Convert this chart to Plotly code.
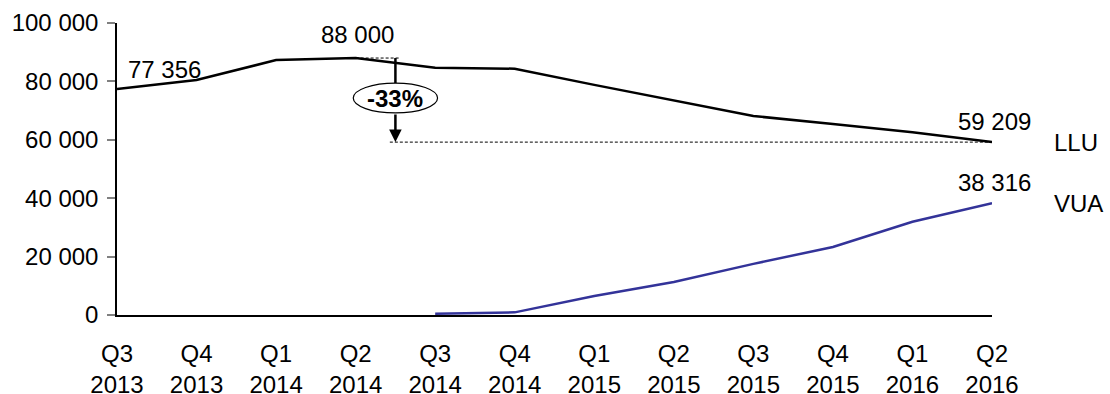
import plotly.graph_objects as go

# Quarterly line counts
quarters = ["Q3<br>2013", "Q4<br>2013", "Q1<br>2014", "Q2<br>2014", "Q3<br>2014", "Q4<br>2014",
            "Q1<br>2015", "Q2<br>2015", "Q3<br>2015", "Q4<br>2015", "Q1<br>2016", "Q2<br>2016"]
llu = [77356, 80500, 87300, 88000, 84700, 84350, 78800, 73600, 68150, 65400, 62550, 59209]
vua = [None, None, None, None, 450, 900, 6500, 11300, 17500, 23300, 31950, 38316]
y_ticks = [0, 20000, 40000, 60000, 80000, 100000]
change_label = "-33%"

FONT = "Liberation Sans, Arial, sans-serif"
FS = 24
x = list(range(len(quarters)))


def fmt(v):
    return f"{v:,}".replace(",", " ")


fig = go.Figure()
fig.add_trace(go.Scatter(x=x, y=llu, mode="lines", line=dict(color="#000000", width=2.5),
                         showlegend=False, hoverinfo="skip"))
fig.add_trace(go.Scatter(x=x, y=vua, mode="lines", line=dict(color="#333399", width=2.5),
                         showlegend=False, hoverinfo="skip"))

ann = []
txt = dict(family=FONT, size=FS, color="#000000")
# value labels
ann.append(dict(x=0, y=llu[0], text=fmt(llu[0]), showarrow=False, xanchor="left", yanchor="bottom",
                xshift=9, yshift=4, font=txt))
i_peak = llu.index(max(llu))
ann.append(dict(x=i_peak, y=llu[i_peak], text=fmt(llu[i_peak]), showarrow=False, xanchor="center",
                yanchor="bottom", xshift=2, yshift=8, font=txt))
ann.append(dict(x=x[-1], y=llu[-1], text=fmt(llu[-1]), showarrow=False, xanchor="center",
                yanchor="bottom", xshift=2, yshift=5, font=txt))
ann.append(dict(x=x[-1], y=vua[-1], text=fmt(vua[-1]), showarrow=False, xanchor="center",
                yanchor="bottom", xshift=2, yshift=5, font=txt))
# series names
ann.append(dict(x=x[-1], y=llu[-1], text="LLU", showarrow=False, xanchor="left", yanchor="middle",
                xshift=60, font=txt))
ann.append(dict(x=x[-1], y=vua[-1], text="VUA", showarrow=False, xanchor="left", yanchor="middle",
                xshift=60, font=txt))

# decline marker between peak and latest value
xm = 3.5
ell_lo, ell_hi = 69200, 79400
shapes = [
    dict(type="line", x0=i_peak, x1=3.56, y0=llu[i_peak], y1=llu[i_peak],
         line=dict(color="#000000", width=1, dash="3px,2px")),
    dict(type="line", x0=3.43, x1=x[-1], y0=llu[-1], y1=llu[-1],
         line=dict(color="#000000", width=1, dash="3px,2px")),
    dict(type="line", x0=xm, x1=xm, y0=llu[i_peak], y1=ell_hi,
         line=dict(color="#000000", width=2.5)),
    dict(type="circle", x0=2.97, x1=4.03, y0=ell_lo, y1=ell_hi,
         line=dict(color="#000000", width=1.2), fillcolor="#ffffff"),
]
ann.append(dict(x=xm, y=llu[-1], ax=xm, ay=ell_lo, axref="x", ayref="y", xref="x", yref="y",
                text="", showarrow=True, arrowhead=2, arrowsize=1, arrowwidth=2.5,
                arrowcolor="#000000", standoff=0, startstandoff=0))
ann.append(dict(x=xm, y=(ell_lo + ell_hi) / 2, text=f"<b>{change_label}</b>", showarrow=False,
                xanchor="center", yanchor="middle",
                font=dict(family=FONT, size=FS, color="#000000")))

fig.update_layout(
    width=1110, height=394,
    margin=dict(l=117, r=118, t=23, b=79),
    paper_bgcolor="#ffffff", plot_bgcolor="#ffffff",
    shapes=shapes, annotations=ann,
    xaxis=dict(range=[0, 11], tickvals=x, ticktext=quarters, showgrid=False, zeroline=False,
               showline=True, linecolor="#000000", linewidth=1.5, ticks="",
               ticklabelstandoff=16, automargin=False,
               tickfont=dict(family=FONT, size=FS, color="#000000"), fixedrange=True),
    yaxis=dict(range=[0, 100000], tickvals=y_ticks, ticktext=[fmt(v) for v in y_ticks],
               showgrid=False, zeroline=False, showline=True, linecolor="#000000", linewidth=1.5,
               ticks="outside", ticklen=8, tickcolor="#808080", tickwidth=1.5,
               ticklabelstandoff=4, automargin=False,
               tickfont=dict(family=FONT, size=FS, color="#000000"), fixedrange=True),
)

fig.write_html("out.html")
